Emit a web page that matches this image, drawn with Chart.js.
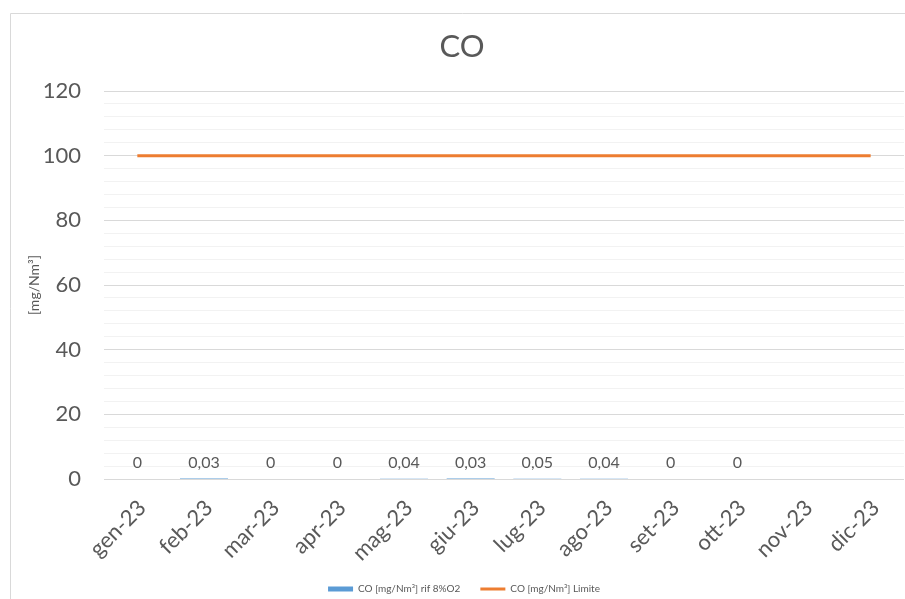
<!DOCTYPE html>
<html>
<head>
<meta charset="utf-8">
<script src="https://cdn.jsdelivr.net/npm/chart.js@4.4.1/dist/chart.umd.min.js"></script>
<style>
  html, body { margin: 0; padding: 0; background: #fff; overflow: hidden; width: 905px; height: 599px; }
  #wrap { position: absolute; left: 10px; top: 13px; width: 905px; height: 591px; }
</style>
</head>
<body>
<div id="wrap"><canvas id="c" width="905" height="591"></canvas></div>
<script>
const months = ['gen-23', 'feb-23', 'mar-23', 'apr-23', 'mag-23', 'giu-23',
                'lug-23', 'ago-23', 'set-23', 'ott-23', 'nov-23', 'dic-23'];
const coMeasured = [0, 0.03, 0, 0, 0.04, 0.03, 0.05, 0.04, 0, 0, null, null];
const coLimit = [100, 100, 100, 100, 100, 100, 100, 100, 100, 100, 100, 100];
const yTickLabels = [0, 20, 40, 60, 80, 100, 120];
const chartTitle = 'CO';

const FONT = 'Lato, "Open Sans", "Liberation Sans", sans-serif';
const TEXT = '#595959';

// Frame around the chart box and the title centred on the whole box
const framePlugin = {
  id: 'frame',
  afterLayout(chart) {
    // centre the legend on the whole box rather than on the padded area
    if (chart.legend) {
      chart.legend.left += 7;
      chart.legend.right += 7;
    }
  },
  beforeDraw(chart) {
    const ctx = chart.ctx;
    ctx.save();
    ctx.strokeStyle = '#d9d9d9';
    ctx.lineWidth = 1;
    ctx.beginPath();
    ctx.moveTo(0.5, chart.height);
    ctx.lineTo(0.5, 0.5);
    ctx.lineTo(chart.width, 0.5);
    ctx.stroke();
    ctx.font = '31px ' + FONT;
    ctx.fillStyle = TEXT;
    ctx.textAlign = 'center';
    ctx.textBaseline = 'middle';
    ctx.fillText(chartTitle, 452, 34);
    ctx.restore();
  }
};

// Value labels above the bars, Italian decimal comma
const barLabelPlugin = {
  id: 'barLabels',
  afterDatasetsDraw(chart) {
    const meta = chart.getDatasetMeta(0);
    const ctx = chart.ctx;
    ctx.save();
    ctx.font = '16px ' + FONT;
    ctx.fillStyle = TEXT;
    ctx.textAlign = 'center';
    ctx.textBaseline = 'middle';
    meta.data.forEach((bar, i) => {
      const v = coMeasured[i];
      if (v === null || v === undefined) return;
      ctx.fillText(String(v).replace('.', ','), bar.x, bar.y - 16);
    });
    ctx.restore();
  }
};

new Chart(document.getElementById('c'), {
  data: {
    labels: months,
    datasets: [
      {
        type: 'bar',
        label: 'CO [mg/Nm³] rif 8%O2',
        data: coMeasured,
        backgroundColor: '#5B9BD5',
        borderWidth: 0,
        pointStyle: 'rect'
      },
      {
        type: 'line',
        label: 'CO [mg/Nm³] Limite',
        data: coLimit,
        borderColor: '#ED7D31',
        backgroundColor: '#ED7D31',
        borderWidth: 3,
        pointRadius: 0,
        pointStyle: 'line',
        tension: 0
      }
    ]
  },
  options: {
    responsive: false,
    animation: false,
    devicePixelRatio: 1,
    layout: { padding: { top: 78, right: 11, left: 0, bottom: 0 } },
    plugins: {
      title: { display: false },
      legend: {
        position: 'bottom',
        labels: {
          usePointStyle: true,
          pointStyleWidth: 25,
          boxHeight: 5,
          padding: 20,
          color: TEXT,
          font: { family: FONT, size: 10 }
        }
      },
      tooltip: { enabled: false }
    },
    scales: {
      x: {
        grid: { display: false },
        border: { display: false },
        ticks: {
          color: TEXT,
          font: { family: FONT, size: 22 },
          minRotation: 45,
          maxRotation: 45,
          padding: 8,
          labelOffset: 5
        },
        afterFit(scale) { scale.height = 85; }
      },
      y: {
        min: 0,
        max: 120,
        border: { display: false },
        grid: {
          drawTicks: false,
          color: ctx => (ctx.tick && ctx.tick.value % 20 === 0) ? '#d9d9d9' : '#f2f2f2',
          lineWidth: 1
        },
        ticks: {
          stepSize: 4,
          autoSkip: false,
          padding: 23,
          color: TEXT,
          font: { family: FONT, size: 22 },
          callback: v => yTickLabels.includes(v) ? String(v) : ''
        },
        title: {
          display: true,
          text: '[mg/Nm³]',
          color: TEXT,
          font: { family: FONT, size: 14 },
          padding: { top: 16, bottom: 0 }
        },
        afterFit(scale) { scale.width = 94; }
      }
    }
  },
  plugins: [framePlugin, barLabelPlugin]
});
</script>
</body>
</html>
